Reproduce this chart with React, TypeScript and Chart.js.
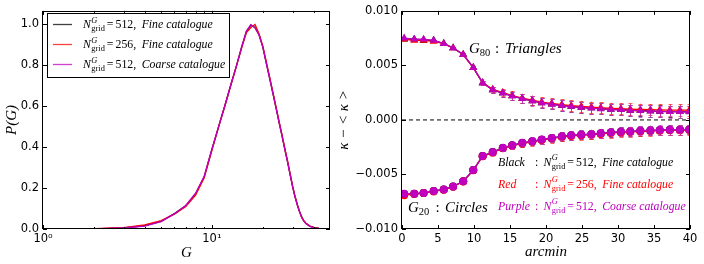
import React, { useEffect, useRef } from 'react';
import { Chart, registerables } from 'chart.js';

Chart.register(...registerables);

// ---------------- Left panel data ----------------
const gValues = [2, 3, 4, 5, 6, 7, 8, 9, 10, 11, 12, 13, 14, 15, 16, 17, 18, 19, 20, 21, 22, 23, 24, 25, 26, 27, 28, 29, 30, 31, 32, 33, 34, 35, 36, 38, 40, 43, 46, 50];
const pBlack512Fine = [0.001, 0.005, 0.016, 0.037, 0.075, 0.113, 0.17, 0.255, 0.39, 0.505, 0.61, 0.71, 0.8, 0.89, 0.965, 0.997, 0.985, 0.95, 0.89, 0.81, 0.735, 0.66, 0.59, 0.52, 0.455, 0.39, 0.33, 0.27, 0.21, 0.16, 0.12, 0.085, 0.058, 0.04, 0.028, 0.014, 0.008, 0.003, 0.001, 0];
const pRed256Fine = [0.002, 0.007, 0.02, 0.041, 0.072, 0.11, 0.166, 0.25, 0.385, 0.505, 0.61, 0.71, 0.8, 0.885, 0.96, 0.985, 1.0, 0.955, 0.895, 0.815, 0.74, 0.665, 0.595, 0.525, 0.46, 0.395, 0.335, 0.272, 0.212, 0.162, 0.12, 0.086, 0.058, 0.04, 0.027, 0.014, 0.008, 0.003, 0.001, 0];
const pPurple512Coarse = [0.001, 0.005, 0.014, 0.036, 0.075, 0.115, 0.175, 0.258, 0.39, 0.505, 0.61, 0.71, 0.8, 0.89, 0.967, 0.999, 0.983, 0.948, 0.89, 0.81, 0.733, 0.66, 0.59, 0.52, 0.455, 0.39, 0.33, 0.268, 0.208, 0.158, 0.118, 0.084, 0.057, 0.039, 0.027, 0.013, 0.007, 0.003, 0.001, 0];
const leftYTicks = [0, 0.2, 0.4, 0.6, 0.8, 1.0];
const leftYTickLabels = ['0.0', '0.2', '0.4', '0.6', '0.8', '1.0'];
const leftXTicks = [1, 10];
const leftXTickLabels = ['10\u2070', '10\u00b9'];
const leftXMinorTicks = [2, 3, 4, 5, 6, 7, 8, 9, 20, 30, 40];

// ---------------- Right panel data ----------------
const arcmin = [0.3, 1.7, 3.0, 4.4, 5.8, 7.1, 8.5, 9.9, 11.2, 12.6, 14.0, 15.3, 16.7, 18.1, 19.4, 20.8, 22.2, 23.5, 24.9, 26.3, 27.6, 29.0, 30.4, 31.7, 33.1, 34.5, 35.8, 37.2, 38.6, 39.9];
const g80Black = [0.0074, 0.0074, 0.0073, 0.0073, 0.007, 0.0066, 0.006, 0.0048, 0.0034, 0.00276, 0.00247, 0.0022, 0.00196, 0.00175, 0.00157, 0.00145, 0.00133, 0.00124, 0.00115, 0.00109, 0.00103, 0.00097, 0.00094, 0.00088, 0.00085, 0.00082, 0.00079, 0.00077, 0.00076, 0.00075];
const g80Red = [0.0074, 0.0073, 0.0073, 0.0072, 0.007, 0.0066, 0.006, 0.0048, 0.0034, 0.0028, 0.0025, 0.00224, 0.002, 0.00181, 0.00164, 0.00152, 0.00141, 0.00132, 0.00124, 0.00118, 0.00112, 0.00107, 0.00103, 0.00099, 0.00096, 0.00094, 0.00092, 0.0009, 0.0009, 0.0009];
const g80Purple = [0.0075, 0.0074, 0.0074, 0.0073, 0.007, 0.0066, 0.006, 0.0048, 0.0034, 0.00275, 0.00246, 0.00219, 0.00195, 0.00174, 0.00156, 0.00144, 0.00132, 0.00123, 0.00114, 0.00108, 0.00102, 0.00096, 0.00093, 0.00087, 0.00084, 0.00081, 0.00078, 0.00076, 0.00075, 0.00074];
const g80Err = [0.00004, 0.00004, 0.00005, 0.00006, 0.00008, 0.0001, 0.00013, 0.00016, 0.0002, 0.00026, 0.00032, 0.00037, 0.0004, 0.00042, 0.00044, 0.00046, 0.00047, 0.00048, 0.00049, 0.0005, 0.0005, 0.00051, 0.00052, 0.00052, 0.00053, 0.00053, 0.00054, 0.00054, 0.00055, 0.00055];
const g20Black = [-0.0068, -0.00677, -0.0067, -0.00652, -0.00637, -0.0061, -0.00562, -0.0046, -0.0033, -0.00295, -0.00257, -0.00233, -0.00211, -0.00196, -0.00181, -0.00167, -0.00151, -0.00142, -0.00136, -0.00131, -0.00124, -0.00115, -0.00109, -0.00106, -0.001, -0.00097, -0.00094, -0.00091, -0.00091, -0.00088];
const g20Red = [-0.0069, -0.0068, -0.0067, -0.00655, -0.0064, -0.00612, -0.00565, -0.00462, -0.00333, -0.003, -0.0026, -0.00236, -0.00215, -0.002, -0.00185, -0.00171, -0.00156, -0.00147, -0.0014, -0.00135, -0.00128, -0.0012, -0.00114, -0.0011, -0.00105, -0.00101, -0.00098, -0.00095, -0.00094, -0.00092];
const g20Purple = [-0.00676, -0.00676, -0.0067, -0.00652, -0.00637, -0.0061, -0.00562, -0.0046, -0.0033, -0.00295, -0.00256, -0.00232, -0.0021, -0.00195, -0.0018, -0.00166, -0.0015, -0.00141, -0.00135, -0.0013, -0.00123, -0.00114, -0.00108, -0.00105, -0.00099, -0.00096, -0.00093, -0.0009, -0.0009, -0.00087];
const g20Err = [0.00004, 0.00004, 0.00005, 0.00006, 0.00008, 0.0001, 0.00013, 0.00016, 0.0002, 0.00024, 0.00028, 0.00031, 0.00033, 0.00035, 0.00036, 0.00037, 0.00038, 0.00039, 0.0004, 0.0004, 0.00041, 0.00041, 0.00042, 0.00042, 0.00043, 0.00043, 0.00043, 0.00044, 0.00044, 0.00044];
const rightXTicks = [0, 5, 10, 15, 20, 25, 30, 35, 40];
const rightXTickLabels = ['0', '5', '10', '15', '20', '25', '30', '35', '40'];
const rightYTicks = [-0.01, -0.005, 0, 0.005, 0.01];
const rightYTickLabels = ['\u22120.010', '\u22120.005', '0.000', '0.005', '0.010'];
const zeroLineX = [0, 40];

// ---------------- Styling ----------------
const BLACK = '#000000';
const RED = '#ff0000';
const PURPLE = '#bf00bf';
const SANS = '"DejaVu Sans", sans-serif';
const SERIF = '"Liberation Serif", "DejaVu Serif", serif';
const it = (px: number) => `italic ${px}px ${SERIF}`;
const rm = (px: number) => `${px}px ${SERIF}`;
const tickFont = { family: SANS, size: 11.5 };

type Run = { t: string; font: string; dy?: number; gap?: number; stack?: boolean; color?: string };

function drawRuns(ctx: CanvasRenderingContext2D, x: number, y: number, runs: Run[], color: string) {
  let cx = x;
  ctx.textAlign = 'left';
  ctx.textBaseline = 'alphabetic';
  for (let i = 0; i < runs.length; i++) {
    const r = runs[i];
    ctx.font = r.font;
    ctx.fillStyle = r.color || color;
    ctx.fillText(r.t, cx, y + (r.dy || 0));
    let w = ctx.measureText(r.t).width;
    let gap = r.gap || 0;
    if (r.stack && i + 1 < runs.length) {
      const n = runs[i + 1];
      ctx.font = n.font;
      ctx.fillText(n.t, cx, y + (n.dy || 0));
      w = Math.max(w, ctx.measureText(n.t).width);
      gap = n.gap || 0;
      i++;
    }
    cx += w + gap;
  }
  return cx;
}

function nRuns(num: string, label: string, size: number): Run[] {
  return [
    { t: 'N', font: it(size), gap: 0.5 },
    { t: 'G', font: it(size * 0.71), dy: -5.5, stack: true },
    { t: 'grid', font: rm(size * 0.71), dy: 3, gap: 2 },
    { t: '=', font: rm(size), gap: 2 },
    { t: num + ',', font: rm(size), gap: 5.5 },
    { t: label, font: it(size) },
  ];
}

function framePlugin(id: string, minorX: number[]) {
  return {
    id,
    afterDatasetsDraw(chart: any) {
      const { ctx, chartArea, scales } = chart;
      const { left, right, top, bottom } = chartArea;
      ctx.save();
      ctx.strokeStyle = '#000';
      ctx.lineWidth = 1;
      ctx.strokeRect(Math.round(left) - 0.5, Math.round(top) + 0.5, Math.round(right - left), Math.round(bottom - top) - 1);
      const xs = scales.x;
      const ys = scales.y;
      ctx.beginPath();
      const majL = 4;
      const minL = 2;
      xs.ticks.forEach((t: any) => {
        const px = Math.round(xs.getPixelForValue(t.value)) + 0.5;
        ctx.moveTo(px, bottom); ctx.lineTo(px, bottom - majL);
        ctx.moveTo(px, top); ctx.lineTo(px, top + majL);
      });
      minorX.forEach((v) => {
        const px = Math.round(xs.getPixelForValue(v)) + 0.5;
        ctx.moveTo(px, bottom); ctx.lineTo(px, bottom - minL);
        ctx.moveTo(px, top); ctx.lineTo(px, top + minL);
      });
      ys.ticks.forEach((t: any) => {
        const py = Math.round(ys.getPixelForValue(t.value)) + 0.5;
        ctx.moveTo(left, py); ctx.lineTo(left + majL, py);
        ctx.moveTo(right, py); ctx.lineTo(right - majL, py);
      });
      ctx.stroke();
      ctx.restore();
    },
  };
}

const errorBarPlugin = {
  id: 'errorBars',
  beforeDatasetDraw(chart: any, args: any) {
    const ds = chart.data.datasets[args.index];
    if (!ds.errorBars) return;
    const { ctx, chartArea, scales } = chart;
    ctx.save();
    ctx.beginPath();
    ctx.rect(chartArea.left, chartArea.top, chartArea.right - chartArea.left, chartArea.bottom - chartArea.top);
    ctx.clip();
    ctx.strokeStyle = ds.errorColor;
    ctx.lineWidth = 1;
    ctx.beginPath();
    ds.data.forEach((p: any, i: number) => {
      const e = ds.errorBars[i];
      const px = Math.round(scales.x.getPixelForValue(p.x)) + 0.5;
      const y1 = scales.y.getPixelForValue(p.y - e);
      const y2 = scales.y.getPixelForValue(p.y + e);
      ctx.moveTo(px, y1); ctx.lineTo(px, y2);
      ctx.moveTo(px - 2, Math.round(y1) + 0.5); ctx.lineTo(px + 2, Math.round(y1) + 0.5);
      ctx.moveTo(px - 2, Math.round(y2) + 0.5); ctx.lineTo(px + 2, Math.round(y2) + 0.5);
    });
    ctx.stroke();
    ctx.restore();
  },
};

const leftLegendPlugin = {
  id: 'leftLegend',
  afterDraw(chart: any) {
    const ctx = chart.ctx as CanvasRenderingContext2D;
    ctx.save();
    ctx.fillStyle = '#fff';
    ctx.fillRect(48, 13, 182, 64);
    ctx.strokeStyle = '#000';
    ctx.lineWidth = 1;
    ctx.strokeRect(47.5, 13.5, 182, 64);
    const rows: [string, string, string, number][] = [
      [BLACK, '512', 'Fine catalogue', 24],
      [RED, '256', 'Fine catalogue', 44],
      [PURPLE, '512', 'Coarse catalogue', 64],
    ];
    rows.forEach(([c, n, l, y]) => {
      ctx.strokeStyle = c;
      ctx.globalAlpha = 0.75;
      ctx.lineWidth = 1.3;
      ctx.beginPath();
      ctx.moveTo(53, y + 0.5);
      ctx.lineTo(72, y + 0.5);
      ctx.stroke();
      ctx.globalAlpha = 1;
      drawRuns(ctx, 83, y + 4, nRuns(n, l, 11.8), '#000');
    });
    ctx.restore();
  },
};

const rightTextPlugin = {
  id: 'rightText',
  afterDraw(chart: any) {
    const ctx = chart.ctx as CanvasRenderingContext2D;
    const ox = -320; // canvas offset
    ctx.save();
    // G80 : Triangles
    drawRuns(ctx, 469 + ox, 52.5, [
      { t: 'G', font: it(15), gap: 0 },
      { t: '80', font: rm(10.5), dy: 3, gap: 0 },
    ], '#000');
    ctx.font = rm(15); ctx.fillStyle = '#000';
    ctx.fillText(':', 495 + ox, 52.5);
    ctx.font = it(15);
    ctx.fillText('Triangles', 505 + ox, 52.5);
    // G20 : Circles
    drawRuns(ctx, 408 + ox, 212, [
      { t: 'G', font: it(15), gap: 0 },
      { t: '20', font: rm(10.5), dy: 3, gap: 0 },
    ], '#000');
    ctx.font = rm(15);
    ctx.fillText(':', 435.5 + ox, 212);
    ctx.font = it(15);
    ctx.fillText('Circles', 445 + ox, 212);
    // legend lines
    const rows: [string, string, string, string, number][] = [
      [BLACK, 'Black', '512', 'Fine catalogue', 165.5],
      [RED, 'Red', '256', 'Fine catalogue', 187.5],
      [PURPLE, 'Purple', '512', 'Coarse catalogue', 209.5],
    ];
    rows.forEach(([c, name, n, l, y]) => {
      ctx.fillStyle = c;
      ctx.font = it(11.8);
      ctx.textAlign = 'left';
      ctx.fillText(name, 498 + ox, y);
      ctx.font = rm(11.8);
      ctx.fillText(':', 535 + ox, y);
      drawRuns(ctx, 543.5 + ox, y, nRuns(n, l, 11.8), c);
    });
    ctx.restore();
  },
};

function LeftChart() {
  const ref = useRef<HTMLCanvasElement>(null);
  useEffect(() => {
    const mk = (ys: number[]) => gValues.map((g, i) => ({ x: g, y: ys[i] }));
    const line = (label: string, ys: number[], color: string, order: number) => ({
      label, data: mk(ys), borderColor: color, backgroundColor: color,
      borderWidth: 1.3, pointRadius: 0, tension: 0, order,
    });
    const chart = new Chart(ref.current!, {
      type: 'line',
      data: {
        datasets: [
          line('Black', pBlack512Fine, BLACK, 2),
          line('Red', pRed256Fine, RED, 1),
          line('Purple', pPurple512Coarse, PURPLE, 0),
        ] as any,
      },
      options: {
        responsive: false,
        animation: false,
        devicePixelRatio: 1,
        layout: { padding: { top: 4, right: 22, left: 0, bottom: 0 } },
        plugins: { legend: { display: false }, tooltip: { enabled: false } },
        scales: {
          x: {
            type: 'logarithmic', min: 1, max: 50,
            grid: { display: false, drawTicks: false }, border: { display: false },
            afterBuildTicks: (axis: any) => { axis.ticks = leftXTicks.map((v) => ({ value: v })); },
            afterFit: (axis: any) => { axis.height = 35; },
            ticks: {
              autoSkip: false, maxRotation: 0, padding: 3, color: '#000', font: tickFont,
              callback: (_v: any, i: number) => leftXTickLabels[i],
            },
            title: { display: true, text: 'G', color: '#000', font: { family: SERIF, size: 15, style: 'italic' }, padding: { top: 0, bottom: 1.5 } },
          },
          y: {
            type: 'linear', min: 0, max: 1.066,
            grid: { display: false, drawTicks: false }, border: { display: false },
            afterBuildTicks: (axis: any) => { axis.ticks = leftYTicks.map((v) => ({ value: v })); },
            afterFit: (axis: any) => { axis.width = 43; },
            ticks: {
              padding: 4, color: '#000', font: tickFont,
              callback: (_v: any, i: number) => leftYTickLabels[i],
            },
            title: { display: true, text: 'P(G)', color: '#000', font: { family: SERIF, size: 15, style: 'italic' }, padding: { top: 3, bottom: 0 } },
          },
        },
      } as any,
      plugins: [framePlugin('leftFrame', leftXMinorTicks), leftLegendPlugin],
    });
    return () => chart.destroy();
  }, []);
  return <canvas ref={ref} width={352} height={264} style={{ position: 'absolute', left: 0, top: 0 }} />;
}

function RightChart() {
  const ref = useRef<HTMLCanvasElement>(null);
  useEffect(() => {
    const mk = (ys: number[]) => arcmin.map((x, i) => ({ x, y: ys[i] }));
    const series = (label: string, ys: number[], err: number[], color: string, errColor: string, style: string, r: number, order: number) => ({
      label, data: mk(ys), borderColor: color, backgroundColor: color,
      borderWidth: 1.3, pointStyle: style, pointRadius: r, pointBorderWidth: 0,
      pointBackgroundColor: color, tension: 0, order, errorBars: err, errorColor: errColor,
    });
    const chart = new Chart(ref.current!, {
      type: 'line',
      data: {
        datasets: [
          {
            label: 'zero', data: zeroLineX.map((x) => ({ x, y: 0 })), borderColor: '#000', borderWidth: 1,
            borderDash: [4, 3], pointRadius: 0, order: 10,
          },
          series('G80 black', g80Black, g80Err, BLACK, 'rgba(0,0,0,0.7)', 'triangle', 4.6, 5),
          series('G20 black', g20Black, g20Err, BLACK, 'rgba(0,0,0,0.7)', 'circle', 4, 5),
          series('G80 red', g80Red, g80Err, RED, 'rgba(255,40,40,0.75)', 'triangle', 4.6, 3),
          series('G20 red', g20Red, g20Err, RED, 'rgba(255,40,40,0.75)', 'circle', 4, 3),
          series('G80 purple', g80Purple, g80Err, PURPLE, 'rgba(200,50,200,0.75)', 'triangle', 4.6, 1),
          series('G20 purple', g20Purple, g20Err, PURPLE, 'rgba(200,50,200,0.75)', 'circle', 4, 1),
        ] as any,
      },
      options: {
        responsive: false,
        animation: false,
        devicePixelRatio: 1,
        layout: { padding: { top: 7, right: 14, left: 0, bottom: 0 } },
        plugins: { legend: { display: false }, tooltip: { enabled: false } },
        scales: {
          x: {
            type: 'linear', min: 0, max: 40,
            grid: { display: false, drawTicks: false }, border: { display: false },
            afterBuildTicks: (axis: any) => { axis.ticks = rightXTicks.map((v) => ({ value: v })); },
            afterFit: (axis: any) => { axis.height = 35; },
            ticks: {
              autoSkip: false, maxRotation: 0, padding: 3, color: '#000', font: tickFont,
              callback: (_v: any, i: number) => rightXTickLabels[i],
            },
            title: { display: true, text: 'arcmin', color: '#000', font: { family: SERIF, size: 15, style: 'italic' }, padding: { top: 0, bottom: 3 } },
          },
          y: {
            type: 'linear', min: -0.01, max: 0.01,
            grid: { display: false, drawTicks: false }, border: { display: false },
            afterBuildTicks: (axis: any) => { axis.ticks = rightYTicks.map((v) => ({ value: v })); },
            afterFit: (axis: any) => { axis.width = 82; },
            ticks: {
              padding: 4, color: '#000', font: tickFont,
              callback: (_v: any, i: number) => rightYTickLabels[i],
            },
            title: { display: true, text: '\u03ba \u2212 < \u03ba >', color: '#000', font: { family: SERIF, size: 15, style: 'italic' }, padding: { top: 15, bottom: 0 } },
          },
        },
      } as any,
      plugins: [errorBarPlugin, framePlugin('rightFrame', []), rightTextPlugin],
    });
    return () => chart.destroy();
  }, []);
  return <canvas ref={ref} width={384} height={264} style={{ position: 'absolute', left: 320, top: 0 }} />;
}

export default function App() {
  useEffect(() => {
    document.body.style.margin = '0';
    document.body.style.background = '#fff';
  }, []);
  return (
    <div style={{ position: 'relative', width: 704, height: 264, overflow: 'hidden', background: '#fff' }}>
      <RightChart />
      <LeftChart />
    </div>
  );
}
